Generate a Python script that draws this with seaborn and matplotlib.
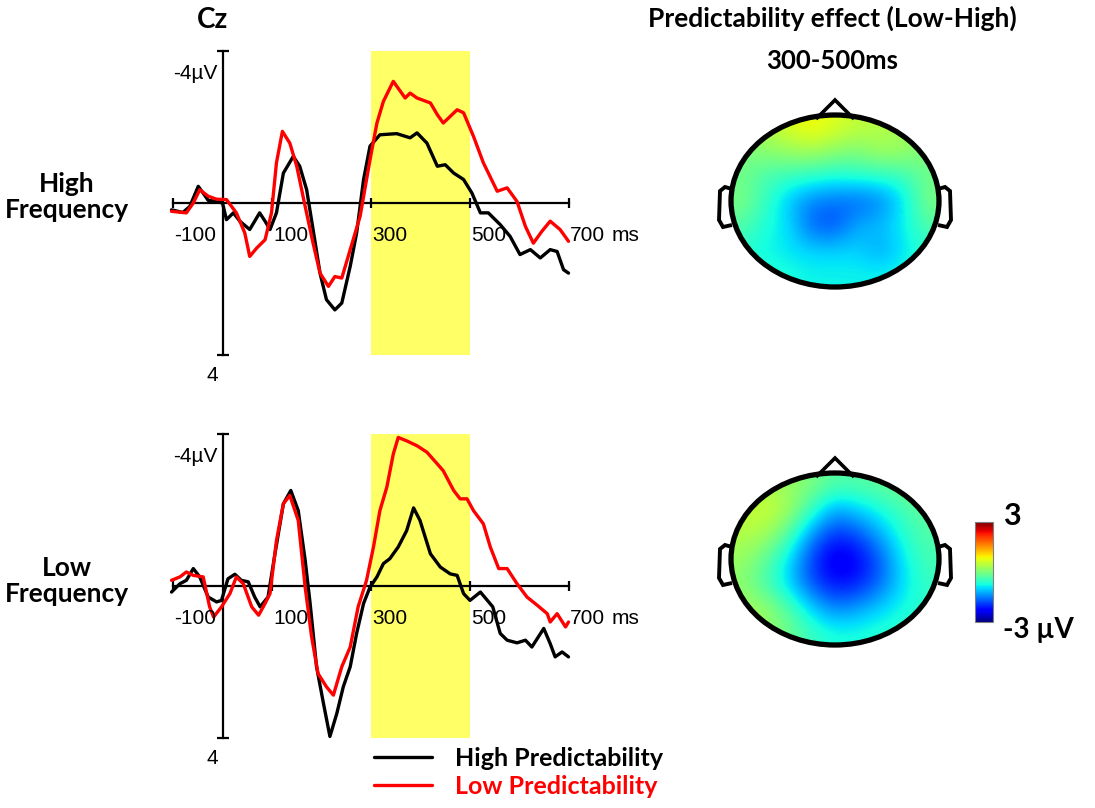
import numpy as np
import pandas as pd
import matplotlib.pyplot as plt
import seaborn as sns
from matplotlib.patches import Ellipse, Polygon

# ERP at Cz, time in ms, amplitude in microvolts (negative plotted up)
hf_high_t = [-103, -80, -66, -49, -39, -29, -12, 0, 8, 22, 35, 55, 75, 86, 96, 109, 123, 143, 156, 170,
             183, 197, 210, 227, 241, 258, 271, 285, 298, 318, 352, 379, 393, 413, 434, 450, 467, 487, 504, 521,
             537, 561, 581, 601, 622, 642, 662, 676, 689, 699]
hf_high_v = [0.18, 0.25, 0.09, -0.44, -0.26, -0.07, -0.04, 0, 0.44, 0.26, 0.48, 0.70, 0.26, 0.48, 0.70, 0.26, -0.79, -1.23, -0.97, -0.35,
             0.70, 1.85, 2.55, 2.82, 2.64, 1.67, 0.79, -0.62, -1.50, -1.80, -1.83, -1.72, -1.85, -1.58, -0.97, -1.01, -0.79, -0.62, -0.26, 0.26,
             0.26, 0.57, 0.88, 1.36, 1.23, 1.45, 1.23, 1.28, 1.76, 1.85]
hf_low_t = [-103, -73, -59, -46, -29, -12, 8, 28, 45, 55, 69, 86, 99, 109, 121, 136, 150, 167, 183, 197,
            214, 227, 241, 258, 278, 298, 312, 325, 345, 369, 379, 393, 420, 434, 446, 474, 487, 507, 527, 555,
            575, 595, 612, 628, 645, 662, 682, 699]
hf_low_v = [0.22, 0.26, 0, -0.35, -0.18, -0.10, -0.09, 0.26, 0.79, 1.41, 1.19, 0.97, 0.26, -1.06, -1.89, -1.58, -0.97, 0.09, 1.06, 1.85,
            2.20, 1.94, 1.98, 1.23, 0.35, -1.14, -2.11, -2.68, -3.21, -2.77, -2.90, -2.77, -2.64, -2.33, -2.11, -2.46, -2.38, -1.76, -1.06, -0.31,
            -0.40, -0.04, 0.62, 1.06, 0.75, 0.48, 0.70, 1.01]
lf_high_t = [-103, -86, -73, -59, -46, -29, -12, -2, 11, 25, 38, 52, 65, 76, 92, 106, 123, 138, 153, 167,
             177, 190, 204, 217, 231, 244, 258, 271, 285, 298, 312, 325, 338, 355, 372, 386, 399, 420, 440, 460,
             474, 487, 500, 521, 546, 561, 575, 595, 612, 625, 649, 662, 672, 686, 699]
lf_high_v = [0.16, -0.06, -0.15, -0.46, -0.24, 0.29, 0.42, 0.38, -0.19, -0.31, -0.15, -0.11, 0.29, 0.55, 0.29, -0.85, -2.17, -2.52, -1.99, -0.68,
             0.46, 2.13, 3.10, 3.97, 3.36, 2.66, 2.13, 1.25, 0.46, 0.03, -0.24, -0.59, -0.72, -1.03, -1.46, -2.06, -1.73, -0.85, -0.50, -0.32,
             -0.28, 0.20, 0.38, 0.16, 0.55, 1.25, 1.43, 1.50, 1.43, 1.61, 1.12, 1.52, 1.87, 1.74, 1.87]
lf_low_t = [-103, -86, -73, -59, -39, -26, -18, -2, 15, 28, 42, 59, 73, 86, 96, 109, 123, 136, 153, 167,
            180, 193, 210, 224, 241, 258, 274, 291, 305, 318, 332, 345, 355, 372, 393, 413, 434, 446, 467, 480,
            494, 507, 527, 541, 558, 575, 595, 615, 636, 656, 662, 676, 693, 699]
lf_low_v = [-0.15, -0.24, -0.37, -0.28, -0.24, 0.55, 0.82, 0.55, 0.20, -0.24, -0.06, 0.55, 0.77, 0.46, 0.20, -1.20, -2.17, -2.39, -1.73, 0.03,
            1.34, 2.31, 2.66, 2.88, 2.13, 1.61, 0.55, -0.15, -1.03, -1.99, -2.61, -3.48, -3.92, -3.83, -3.70, -3.53, -3.22, -3.04, -2.52, -2.30,
            -2.30, -1.99, -1.64, -1.03, -0.46, -0.46, -0.06, 0.29, 0.51, 0.73, 0.95, 0.73, 1.08, 0.95]

conditions = ["High Predictability", "Low Predictability"]
cond_colors = ["black", "#ff0000"]
window = [300, 500]
xticks = [-100, 100, 300, 500, 700]

# Topographies of Low-High difference (rows front to back, columns left to right), microvolts
topo_hf = np.array([
    [0.3, 0.4, 0.7, 0.9, 0.7, 0.5, 0.4, 0.3, 0.2],
    [0.0, 0.1, 0.2, 0.3, 0.1, 0.0, 0.3, 0.2, 0.0],
    [-0.1, -0.4, -0.5, -0.6, -0.7, -0.6, -0.6, -0.5, -0.1],
    [0.0, -0.5, -1.1, -1.5, -1.6, -1.7, -1.5, -0.9, 0.0],
    [-0.3, -0.7, -0.9, -1.7, -1.8, -1.2, -1.1, -0.8, -0.3],
    [-0.6, -0.8, -0.9, -1.0, -1.0, -1.0, -1.3, -0.9, -0.6],
    [-0.6, -0.6, -0.7, -0.8, -0.8, -0.8, -0.8, -0.7, -0.6],
])
topo_lf = np.array([
    [0.3, 0.3, 0.2, 0.0, -0.3, -0.3, -0.2, -0.1, 0.0],
    [0.5, 0.6, 0.3, -0.5, -1.3, -1.0, -0.7, -0.4, -0.2],
    [0.4, 0.3, -0.3, -1.4, -2.0, -1.8, -1.2, -0.6, -0.3],
    [0.2, -0.2, -0.9, -1.9, -2.5, -2.3, -1.7, -0.8, -0.4],
    [0.1, -0.4, -1.0, -1.8, -2.2, -2.1, -1.6, -0.9, -0.5],
    [0.3, 0.2, -0.3, -1.0, -1.5, -1.3, -1.0, -0.7, -0.6],
    [0.3, 0.2, -0.1, -0.5, -0.7, -0.7, -0.6, -0.6, -0.5],
])


def erp_frame(hi_t, hi_v, lo_t, lo_v):
    a = pd.DataFrame({"time": hi_t, "amp": hi_v, "cond": conditions[0]})
    b = pd.DataFrame({"time": lo_t, "amp": lo_v, "cond": conditions[1]})
    return pd.concat([a, b], ignore_index=True)


sns.set_theme(style="white")
plt.rcParams["font.family"] = ["Lato", "DejaVu Sans"]
plt.rcParams["text.color"] = "black"

W, H = 1095, 808
fig = plt.figure(figsize=(W / 100, H / 100), dpi=100)


def px_axes(x0, y0, x1, y1):
    return fig.add_axes([x0 / W, 1 - y1 / H, (x1 - x0) / W, (y1 - y0) / H])


T0_PX, PX_MS, PX_UV = 222.5, 0.495, 37.9
XLIM, YHALF = (-120, 720), 4.6
TICKFONT = ["Liberation Sans", "DejaVu Sans"]
TICKSIZE = 15


def erp_panel(zero_y, df, legend):
    ax = px_axes(T0_PX + XLIM[0] * PX_MS, zero_y - YHALF * PX_UV,
                 T0_PX + XLIM[1] * PX_MS, zero_y + YHALF * PX_UV)
    ax.set_facecolor("none")
    ax.fill_betweenx([-4, 4], window[0], window[1], color="#ffff66", lw=0, zorder=0)
    sns.lineplot(data=df, x="time", y="amp", hue="cond", palette=cond_colors,
                 estimator=None, linewidth=2.4, legend=legend, ax=ax, zorder=3)
    ax.set_xlim(XLIM)
    ax.set_ylim(YHALF, -YHALF)
    ax.set_xlabel("")
    ax.set_ylabel("")
    for s in ["top", "right"]:
        ax.spines[s].set_visible(False)
    ax.spines["left"].set_position(("data", 0))
    ax.spines["left"].set_bounds(-4, 4)
    ax.spines["bottom"].set_position(("data", 0))
    ax.spines["bottom"].set_bounds(-100, 700)
    for s in ["left", "bottom"]:
        ax.spines[s].set_color("black")
        ax.spines[s].set_linewidth(1.6)
        ax.spines[s].set_zorder(2)
    ax.set_xticks(xticks)
    ax.set_yticks([-4, 4])
    ax.tick_params(axis="x", direction="inout", length=7, width=1.6, color="black",
                   bottom=True, labelbottom=False)
    ax.tick_params(axis="y", direction="inout", length=8, width=1.6, color="black",
                   left=True, labelleft=False)
    for t in xticks:
        ax.text(t + 2, 0.85, str(t), ha="left", va="center", fontsize=TICKSIZE, family=TICKFONT)
    ax.text(815, 0.85, "ms", ha="center", va="center", fontsize=TICKSIZE, family=TICKFONT)
    ax.text(-10, -3.43, "-4\u00b5V", ha="right", va="center", fontsize=TICKSIZE, family=TICKFONT)
    ax.text(-21, 4.54, "4", ha="center", va="center", fontsize=TICKSIZE, family=TICKFONT)
    return ax


ax_hf = erp_panel(203, erp_frame(hf_high_t, hf_high_v, hf_low_t, hf_low_v), False)
ax_lf = erp_panel(586, erp_frame(lf_high_t, lf_high_v, lf_low_t, lf_low_v), True)

handles = ax_lf.get_legend().legend_handles
ax_lf.get_legend().remove()
leg = ax_lf.legend(handles, conditions, loc="upper left",
                   bbox_to_anchor=(374 / W, 1 - 747 / H), bbox_transform=fig.transFigure,
                   frameon=False, fontsize=18, handlelength=2.3, handletextpad=0.95,
                   labelspacing=0.2, borderaxespad=0, borderpad=0)
for txt, c in zip(leg.get_texts(), cond_colors):
    txt.set_color(c)
    txt.set_fontweight("bold")


def topo_panel(cx, cy, grid):
    ax = px_axes(cx - 135, cy - 110, cx + 135, cy + 110)
    im = ax.imshow(grid, cmap="jet", vmin=-3, vmax=3, extent=(-104, 104, -86, 86),
                   interpolation="bicubic", origin="upper", zorder=1)
    im.set_clip_path(Ellipse((0, 0), 208, 172, transform=ax.transData))
    ax.add_patch(Ellipse((0, 0), 208, 172, fill=False, ec="black", lw=3.8, zorder=4))
    ax.add_patch(Polygon([(-19, 82), (0, 101), (19, 82)], closed=False, fill=False,
                         ec="black", lw=2.6, zorder=3))
    for sgn in [-1, 1]:
        ear = [(sgn * 103, 12), (sgn * 110, 14), (sgn * 115, 10), (sgn * 116, -19),
               (sgn * 112, -26), (sgn * 103, -24)]
        ax.add_patch(Polygon(ear, closed=False, fill=False, ec="black", lw=2.8, zorder=3))
    ax.set_xlim(-135, 135)
    ax.set_ylim(-110, 110)
    ax.axis("off")
    return im


topo_panel(835, 201, topo_hf)
im = topo_panel(835, 559, topo_lf)

cax = px_axes(975, 522, 993, 622)
cb = fig.colorbar(im, cax=cax, ticks=[-1.5, 0, 1.5])
cb.ax.tick_params(length=2, width=0.8, direction="in", labelright=False, right=True, color="black")
cb.outline.set_edgecolor("gray")
cb.outline.set_linewidth(0.8)

bold = dict(ha="center", va="center", fontweight="bold")
fig.text(212 / W, 1 - 20 / H, "Cz", fontsize=20, **bold)
fig.text(832 / W, 1 - 18 / H, "Predictability effect (Low-High)", fontsize=19, **bold)
fig.text(832 / W, 1 - 61 / H, "300-500ms", fontsize=18.5, **bold)
fig.text(67 / W, 1 - 197 / H, "High\nFrequency", fontsize=19, linespacing=1.15, **bold)
fig.text(67 / W, 1 - 581 / H, "Low\nFrequency", fontsize=19, linespacing=1.15, **bold)
fig.text(1012 / W, 1 - 516 / H, "3", fontsize=22, **bold)
fig.text(1038 / W, 1 - 630 / H, "-3 \u00b5V", fontsize=20, **bold)

fig.savefig("out.png", dpi=100)
